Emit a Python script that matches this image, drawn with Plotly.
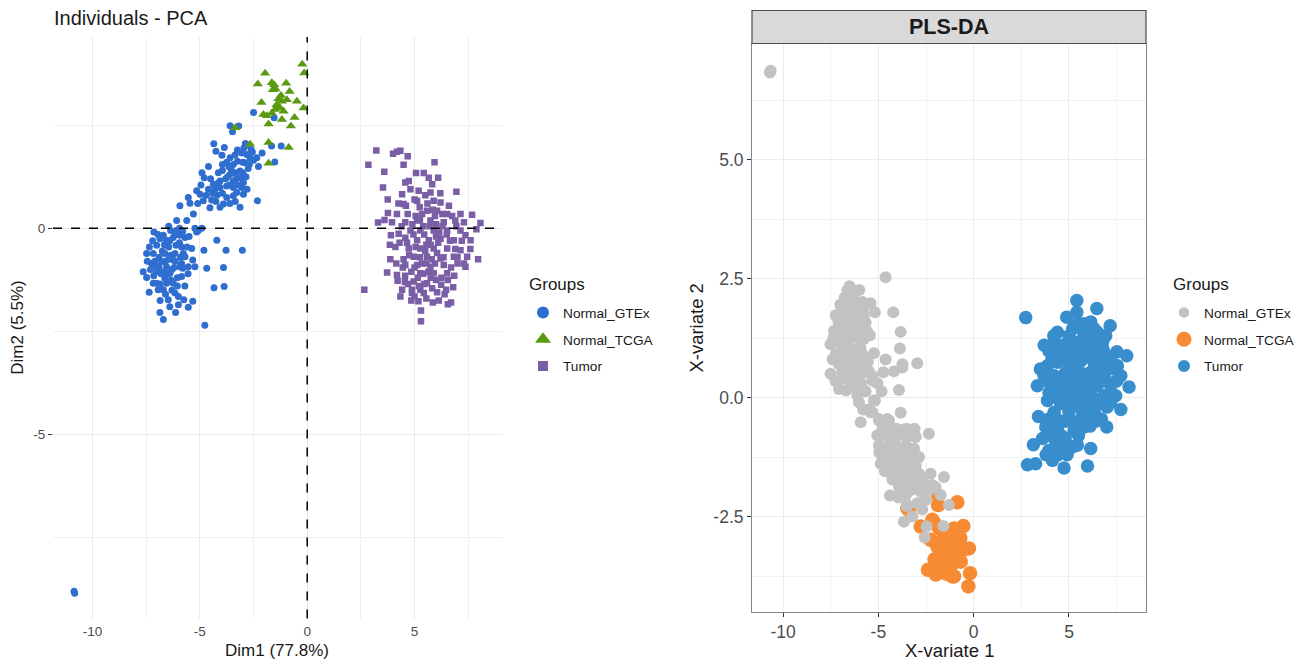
import plotly.graph_objects as go

# ---------------- DATA ----------------
groups = ["Normal_GTEx", "Normal_TCGA", "Tumor"]

# tick labels
pca_x_ticks = [-10, -5, 0, 5]
pca_x_labels = ["-10", "-5", "0", "5"]
pca_y_ticks = [-5, 0]
pca_y_labels = ["-5", "0"]
pls_x_ticks = [-10, -5, 0, 5]
pls_x_labels = ["-10", "-5", "0", "5"]
pls_y_ticks = [-2.5, 0, 2.5, 5]
pls_y_labels = ["-2.5", "0.0", "2.5", "5.0"]

# PCA individuals (Dim1, Dim2)
pca_gtex = [
    (-2.50, 2.81), (-1.54, 2.68), (-3.59, 2.49), (-3.19, 2.48), (-3.48, 2.34), (-2.88, 2.06), (-2.80, 2.02),
    (-2.61, 1.91), (-1.66, 2.00), (-1.21, 2.00), (-2.10, 1.83), (-1.51, 1.61), (-2.27, 1.50), (-2.35, 1.71),
    (-4.35, 2.05), (-4.25, 1.87), (-3.86, 1.96), (-3.97, 1.77), (-3.59, 1.71), (-3.36, 1.78), (-3.05, 1.83),
    (-2.81, 1.79), (-2.66, 1.71), (-2.50, 1.65), (-3.65, 1.50), (-3.44, 1.55), (-3.25, 1.63), (-3.13, 1.39),
    (-2.89, 1.59), (-4.90, 1.35), (-4.80, 1.23), (-4.14, 1.35), (-4.06, 1.15), (-3.59, 1.31), (-3.44, 1.15),
    (-3.13, 1.23), (-2.97, 1.11), (-4.37, 1.07), (-4.29, 0.95), (-4.06, 0.99), (-3.75, 1.03), (-3.44, 0.99),
    (-3.28, 0.87), (-3.05, 0.99), (-5.15, 0.91), (-4.99, 0.83), (-4.60, 0.95), (-4.84, 0.67), (-4.45, 0.69),
    (-4.53, 0.50), (-4.06, 0.51), (-3.90, 0.59), (-3.75, 0.75), (-3.44, 0.79), (-2.97, 0.83), (-3.13, 0.51),
    (-2.32, 0.67), (-5.54, 0.75), (-5.46, 0.61), (-5.93, 0.55), (-5.30, 0.35), (-6.08, 0.19), (-5.61, 0.19),
    (-3.80, 1.20), (-3.60, 1.05), (-3.95, 1.40), (-2.75, 1.45), (-3.30, 1.20), (-4.20, 0.80),
    (-4.50, 1.20), (-4.40, 0.85), (-4.15, 1.10), (-3.95, 0.85), (-3.70, 1.25), (-3.55, 1.45), (-3.35, 1.35),
    (-3.20, 1.05), (-3.00, 1.35), (-2.85, 1.25), (-2.70, 1.55), (-2.55, 1.85), (-3.00, 1.60), (-3.25, 1.90),
    (-2.95, 1.95), (-3.75, 1.60), (-3.95, 1.55), (-4.60, 1.50), (-4.70, 0.80), (-3.60, 0.60), (-3.35, 0.65),
    (-2.80, 0.95), (-4.95, 1.05), (-5.10, 0.60), (-4.25, 0.65),
    (-5.23, 0.00), (-5.07, -0.05), (-4.91, 0.00), (-5.15, -0.09),
    (-7.14, -0.09), (-6.36, -0.05), (-6.70, -0.17), (-6.24, -0.22), (-5.93, -0.17), (-5.80, -0.07),
    (-5.69, -0.22), (-6.55, -0.29), (-7.01, -0.41), (-6.86, -0.25), (-6.11, -0.41), (-5.85, -0.45),
    (-7.17, -0.61), (-7.48, -0.61), (-6.63, -0.61), (-6.16, -0.61), (-5.77, -0.61), (-6.24, -0.77),
    (-6.78, -0.81), (-7.25, -0.85), (-6.55, -0.93), (-5.93, -0.93), (-7.64, -1.05), (-7.01, -1.05),
    (-6.39, -1.09), (-5.85, -1.17), (-7.48, -1.19), (-7.01, -1.33), (-6.63, -1.21), (-6.24, -1.33),
    (-7.36, -1.55), (-6.70, -1.49), (-6.16, -1.57), (-6.00, -1.65), (-6.47, -1.73), (-6.86, -2.04),
    (-6.70, -2.21), (-6.13, -2.04), (-5.54, -1.91), (-5.33, -1.77), (-5.75, -1.73), (-7.17, -1.33),
    (-6.94, -1.49), (-6.55, -1.33), (-5.69, -0.69), (-5.38, -0.49), (-5.33, -0.77), (-5.23, -0.93),
    (-5.85, -0.85), (-5.80, -0.97), (-5.54, -0.93),
    (-6.90, -0.70), (-6.45, -0.45), (-6.30, -1.00), (-6.80, -1.10), (-6.60, -0.80), (-7.05, -0.90),
    (-6.35, -0.65), (-6.05, -1.20), (-6.85, -1.35), (-6.50, -1.10), (-7.30, -1.00), (-6.20, -0.95),
    (-7.20, -0.30), (-6.95, -0.15), (-6.65, -0.40), (-6.40, -0.30), (-6.15, -0.15), (-5.95, -0.35),
    (-7.35, -0.45), (-6.75, -0.55), (-6.45, -0.75), (-6.15, -0.80), (-5.90, -0.70), (-7.10, -0.80),
    (-6.90, -0.95), (-6.65, -1.05), (-6.35, -1.25), (-6.05, -1.40), (-6.60, -1.60), (-6.30, -1.50),
    (-7.15, -1.15), (-5.60, -0.45), (-5.55, -1.10), (-5.70, -1.40), (-6.85, -1.75), (-6.40, -1.90),
    (-5.50, -0.20), (-6.10, -0.05), (-7.45, -0.80), (-6.00, -1.85), (-5.95, 0.00), (-6.45, 0.05),
    (-4.81, -0.53), (-4.21, -0.29), (-3.78, -0.53), (-3.02, -0.53), (-4.68, -0.97), (-3.90, -0.95),
    (-4.34, -1.44), (-3.87, -1.41), (-4.77, -2.35),
    (-10.86, -8.80), (-10.83, -8.85),
]

pca_tcga = [
    (-0.23, 3.98), (-0.14, 3.77), (-1.96, 3.76), (-2.30, 3.50), (-1.65, 3.53), (-1.54, 3.48), (-1.60, 3.36),
    (-1.48, 3.38), (-0.98, 3.52), (-0.82, 3.32), (-2.13, 3.05), (-1.34, 3.14), (-1.18, 3.08), (-1.42, 3.00),
    (-1.26, 2.92), (-1.49, 2.88), (-1.10, 2.84), (-0.95, 3.12), (-0.48, 3.08), (-0.17, 2.92), (-2.04, 2.76),
    (-1.88, 2.73), (-1.65, 2.80), (-1.18, 2.64), (-0.59, 2.69), (-1.80, 2.53), (-0.76, 2.48), (-3.36, 2.44),
    (-2.66, 2.04), (-1.80, 2.08), (-0.86, 1.96), (-1.80, 1.58), (-1.38, 2.98), (-1.22, 3.22),
]

pca_tumor = [
    (3.22, 1.89), (2.85, 1.54), (4.00, 1.81), (4.18, 1.86), (4.34, 1.88), (4.68, 1.75), (4.49, 1.54),
    (3.59, 1.37), (5.93, 1.60), (5.07, 1.34), (5.43, 1.34), (5.66, 1.23), (6.10, 1.23), (4.57, 1.11),
    (4.73, 1.15), (5.82, 1.07), (3.53, 0.99), (4.42, 0.83), (4.81, 0.95), (5.19, 0.91), (5.74, 0.87),
    (6.95, 0.89), (4.49, 0.59), (5.12, 0.67), (5.89, 0.67), (6.21, 0.63), (3.76, 0.37), (4.18, 0.35),
    (4.68, 0.35), (5.24, 0.51), (5.58, 0.43), (6.05, 0.43), (6.52, 0.35), (7.14, 0.35), (7.68, 0.33),
    (3.30, 0.14), (3.95, 0.15), (4.57, 0.15), (5.12, 0.19), (5.74, 0.19), (6.36, 0.15), (6.90, 0.19),
    (8.07, 0.13), (3.90, -0.17), (4.26, -0.13), (4.81, -0.05), (5.27, -0.05), (5.89, -0.05), (6.52, -0.05),
    (7.14, -0.05), (7.88, -0.02), (4.57, -0.23), (5.12, -0.29), (5.66, -0.29), (6.21, -0.25), (6.83, -0.29),
    (7.37, -0.17), (7.61, -0.29), (4.11, -0.45), (4.73, -0.49), (5.27, -0.49), (5.89, -0.49), (6.52, -0.49),
    (7.14, -0.53), (3.87, -0.75), (4.49, -0.75), (4.96, -0.69), (5.58, -0.69), (6.21, -0.73), (6.83, -0.69),
    (7.45, -0.69), (7.96, -0.75), (4.57, -0.89), (5.12, -0.89), (5.74, -0.93), (6.36, -0.89), (7.00, -0.85),
    (7.37, -0.93), (3.72, -1.07), (4.18, -1.13), (4.56, -1.15), (5.27, -1.09), (5.89, -1.09), (6.52, -1.09),
    (2.66, -1.49), (4.21, -1.27), (4.96, -1.29), (5.58, -1.33), (6.24, -1.37), (6.80, -1.43), (4.42, -1.49),
    (4.88, -1.49), (5.27, -1.49), (5.82, -1.45), (6.47, -1.49), (4.34, -1.65), (4.88, -1.57), (5.43, -1.57),
    (4.85, -1.75), (5.18, -1.77), (6.13, -1.75), (6.55, -1.84), (5.30, -1.99), (5.30, -2.25),
    (5.45, -0.15), (5.75, -0.40), (6.05, -0.60), (5.55, -0.85), (6.00, -1.25), (5.40, -1.10), (6.30, 0.05),
    (5.95, 0.30), (5.40, 0.05), (6.70, -0.95), (5.00, -0.95), (6.15, -0.10), (5.60, 0.60), (5.05, 0.30),
    (4.65, -0.35), (4.95, -0.15), (5.25, -0.70), (5.50, -0.55), (5.80, -0.75), (6.10, -0.35), (6.35, -0.70),
    (6.65, -0.30), (6.90, -0.50), (7.20, -0.30), (4.75, -0.65), (5.05, -0.45), (5.35, -0.85), (5.65, -1.05),
    (5.95, -0.85), (6.25, -1.20), (6.55, -1.25), (6.85, -1.15), (5.15, -1.20), (4.85, -1.05), (4.55, -1.30),
    (5.45, -1.35), (5.75, -1.20), (6.05, -1.55), (5.55, -1.70), (5.00, -1.65), (4.70, -1.35), (6.40, -1.60),
    (5.85, -1.80), (5.20, -1.40), (5.35, 0.35), (5.70, 0.05), (6.00, 0.10), (6.30, 0.35), (6.60, 0.55),
    (6.95, 0.05), (7.30, 0.15), (4.90, 0.10), (4.60, 0.55), (5.00, 0.70), (5.50, 0.80), (6.20, 0.85),
    (6.50, -0.15), (7.00, -0.70), (7.30, -0.85), (4.30, -0.35), (4.40, 0.05), (4.15, -0.85), (3.85, -0.40),
    (3.60, 0.20), (7.60, -0.50), (6.75, 0.30), (5.85, 0.45), (5.25, 0.20), (4.45, -0.95), (6.00, -0.20),
    (5.55, -0.40), (6.70, -1.80), (4.25, 0.60), (3.75, 0.70),
]

# PLS-DA individuals (X-variate 1, X-variate 2)
pls_gtex = [
    (-10.69, 6.83), (-10.65, 6.87),
    (-4.62, 2.53), (-6.51, 2.34), (-6.00, 2.26), (-6.63, 2.25), (-6.77, 2.10), (-6.32, 2.10), (-5.84, 2.01),
    (-5.41, 1.98), (-7.24, 1.73), (-6.81, 1.82), (-6.46, 1.86), (-6.11, 1.75), (-5.76, 1.72), (-5.18, 1.79),
    (-4.22, 1.79), (-7.33, 1.40), (-6.89, 1.51), (-6.46, 1.54), (-6.02, 1.51), (-5.67, 1.58), (-3.83, 1.38),
    (-7.51, 1.12), (-7.07, 1.16), (-6.63, 1.23), (-6.19, 1.26), (-5.76, 1.23), (-5.44, 1.31), (-3.87, 1.03),
    (-7.24, 0.91), (-6.81, 0.95), (-6.28, 0.98), (-5.84, 0.91), (-5.23, 0.93), (-4.62, 0.80), (-3.74, 0.70),
    (-2.96, 0.72), (-7.07, 0.70), (-6.63, 0.74), (-6.11, 0.67), (-5.76, 0.70), (-7.51, 0.50), (-6.89, 0.53),
    (-6.37, 0.53), (-5.76, 0.53), (-5.32, 0.46), (-4.74, 0.53), (-4.18, 0.55), (-3.74, 0.63), (-6.54, 0.36),
    (-6.11, 0.36), (-5.32, 0.36), (-7.07, 0.18), (-6.46, 0.29), (-5.67, 0.13), (-4.83, 0.13), (-3.92, 0.16),
    (-6.60, 1.40), (-6.30, 1.70), (-6.90, 1.00), (-6.40, 0.80), (-5.95, 1.05), (-6.70, 0.60), (-6.20, 0.20),
    (-7.00, 1.95), (-6.55, 2.00), (-6.10, 1.95), (-7.10, 1.60), (-6.70, 1.65), (-6.25, 1.60), (-5.80, 1.85),
    (-7.35, 1.25), (-6.95, 1.30), (-6.45, 1.35), (-6.05, 1.35), (-5.60, 1.40), (-7.40, 0.80), (-6.95, 0.85),
    (-6.50, 1.05), (-6.00, 0.85), (-5.55, 0.75), (-7.25, 0.35), (-6.80, 0.40), (-6.30, 0.65), (-5.90, 0.30),
    (-5.50, 0.55), (-6.70, 0.15), (-6.10, 0.05), (-5.80, -0.25), (-5.05, 0.30),
    (-5.18, -0.06), (-6.02, -0.10), (-5.50, -0.25), (-5.32, -0.31), (-5.93, -0.52), (-4.97, -0.45),
    (-4.53, -0.45), (-3.83, -0.32), (-4.79, -0.66), (-4.01, -0.66), (-3.57, -0.66), (-3.13, -0.66),
    (-2.35, -0.76), (-5.41, -0.31), (-5.23, -0.06), (-4.97, -0.48), (-4.71, -0.62), (-4.45, -0.48),
    (-3.48, -0.66), (-3.10, -0.66), (-5.06, -0.79), (-4.71, -0.79), (-4.36, -0.90), (-3.92, -0.79),
    (-3.48, -0.83), (-3.04, -0.83), (-4.97, -1.00), (-4.36, -1.07), (-4.01, -1.04), (-3.57, -1.00),
    (-3.13, -1.07), (-4.79, -1.25), (-4.18, -1.25), (-3.74, -1.21), (-3.31, -1.25), (-2.87, -1.25),
    (-4.88, -1.39), (-4.36, -1.39), (-3.92, -1.42), (-3.48, -1.46), (-3.04, -1.42), (-4.27, -1.72),
    (-3.74, -1.67), (-3.31, -1.63), (-2.87, -1.60), (-2.26, -1.60), (-1.56, -1.67), (-3.92, -1.88),
    (-3.48, -1.84), (-2.96, -1.84), (-2.61, -1.81), (-2.17, -1.84), (-4.39, -2.06), (-3.83, -1.98),
    (-3.31, -1.95), (-2.78, -1.98), (-2.35, -1.95), (-2.00, -1.88), (-3.48, -2.26), (-2.96, -2.22),
    (-1.30, -2.26), (-3.66, -2.61), (-3.22, -2.50), (-2.47, -2.71), (-1.59, -2.70), (-2.57, -2.94),
    (-1.73, -2.05), (-3.52, -2.28), (-3.70, -1.40), (-3.30, -1.45), (-3.60, -1.10), (-3.20, -1.85),
    (-4.55, -0.75), (-4.20, -0.65), (-4.60, -1.05), (-4.20, -0.95), (-3.80, -1.15), (-4.50, -1.30),
    (-4.05, -1.35), (-3.65, -1.35), (-4.10, -1.60), (-3.60, -1.55), (-3.20, -1.40), (-3.95, -2.10),
    (-3.55, -2.05), (-3.10, -1.75), (-2.70, -1.75), (-2.50, -2.15), (-2.70, -2.35), (-4.65, -1.55),
    (-4.95, -1.15), (-3.40, -1.10),
]

pls_tcga = [
    (-3.40, -2.36), (-3.48, -2.33), (-1.87, -2.06), (-1.87, -2.26), (-0.86, -2.20), (-2.78, -2.71),
    (-2.08, -2.63), (-1.82, -2.75), (-1.56, -2.85), (-1.03, -2.75), (-0.54, -2.70), (-2.26, -2.99),
    (-1.82, -3.06), (-1.38, -3.03), (-0.86, -3.10), (-0.25, -3.17), (-0.54, -3.20), (-1.56, -3.27),
    (-1.21, -3.34), (-0.86, -3.27), (-1.77, -3.45), (-1.38, -3.48), (-0.95, -3.45), (-2.40, -3.62),
    (-1.99, -3.72), (-1.56, -3.58), (-1.03, -3.76), (-0.19, -3.69), (-0.28, -3.97), (-1.21, -3.55),
    (-1.38, -3.20), (-1.03, -2.92), (-2.17, -2.57), (-1.91, -3.13), (-1.56, -2.92), (-1.21, -3.13),
    (-0.68, -3.45), (-1.12, -3.76), (-1.82, -3.65), (-1.65, -3.05), (-1.25, -2.85), (-0.95, -3.30),
    (-1.45, -3.70), (-2.05, -3.40), (-0.70, -2.95),
]

pls_tumor = [
    (2.73, 1.68), (5.41, 2.04), (6.46, 1.87), (5.41, 1.79), (4.88, 1.69), (5.44, 1.54), (6.14, 1.59),
    (7.16, 1.51), (4.39, 1.37), (5.00, 1.30), (5.79, 1.33), (6.49, 1.37), (6.93, 1.30), (4.22, 1.16),
    (4.83, 1.12), (5.44, 1.16), (6.14, 1.12), (6.76, 1.16), (3.95, 0.98), (4.57, 0.95), (5.18, 0.98),
    (5.79, 0.95), (6.49, 0.98), (7.51, 0.96), (8.03, 0.88), (3.87, 0.67), (4.39, 0.74), (5.00, 0.74),
    (5.62, 0.77), (6.32, 0.74), (7.02, 0.74), (7.54, 0.67), (3.69, 0.46), (4.22, 0.46), (4.83, 0.53),
    (5.44, 0.49), (6.14, 0.53), (6.84, 0.49), (7.72, 0.46), (3.34, 0.25), (4.48, 0.25), (5.18, 0.25),
    (5.79, 0.29), (6.49, 0.25), (7.19, 0.25), (8.15, 0.22), (4.22, 0.04), (4.83, 0.04), (5.44, 0.04),
    (6.14, 0.08), (6.84, 0.04), (7.45, 0.04), (3.87, -0.06), (4.57, -0.13), (5.27, -0.13), (5.97, -0.10),
    (6.58, -0.13), (7.19, -0.10), (4.22, -0.31), (5.00, -0.31), (5.71, -0.31), (6.32, -0.31), (7.72, -0.25),
    (3.95, -0.45), (4.48, -0.48), (5.18, -0.52), (5.88, -0.48), (6.32, -0.45), (3.78, -0.62), (4.39, -0.66),
    (5.27, -0.69), (5.79, -0.62), (6.98, -0.62), (3.61, -0.86), (4.22, -0.86), (4.57, -0.79), (5.18, -1.04),
    (5.44, -1.00), (3.13, -0.99), (3.95, -1.11), (4.57, -1.00), (6.14, -1.07), (2.82, -1.41), (3.25, -1.39),
    (4.13, -1.32), (4.74, -1.48), (5.97, -1.44), (4.13, -1.14), (4.39, -1.21), (5.09, -1.04),
    (5.70, 0.50), (6.00, 0.10), (5.30, 0.65), (6.60, 0.60), (4.70, 0.30), (5.60, -0.20), (6.40, -0.50),
    (4.50, 1.10), (5.20, 1.45), (5.75, 1.55), (6.30, 1.45), (4.10, 0.80), (4.70, 0.85), (5.30, 0.85),
    (5.95, 0.85), (6.60, 0.85), (7.20, 0.85), (4.00, 0.30), (4.60, 0.40), (5.10, 0.45), (5.50, 0.25),
    (6.30, 0.35), (6.95, 0.35), (7.50, 0.35), (3.95, 0.10), (4.50, -0.05), (5.10, -0.20), (5.85, 0.10),
    (6.55, -0.05), (7.00, -0.20), (4.30, -0.50), (4.80, -0.50), (5.50, -0.50), (6.10, -0.60), (6.70, -0.45),
    (4.00, -0.75), (4.80, -0.85), (5.50, -0.80), (4.40, -0.95), (3.80, -1.20), (4.90, -1.20), (3.40, -0.40),
    (3.50, 0.60), (3.70, 1.10), (6.00, 1.25), (6.80, 1.00), (7.35, 0.60), (5.00, 1.00), (4.20, 1.30),
    (5.60, 1.05), (6.40, 1.10),
]

# ---------------- STYLE ----------------
FONT = "Liberation Sans, Arial, Helvetica, sans-serif"
pca_colors = {"Normal_GTEx": "#2F6ECE", "Normal_TCGA": "#5B9A10", "Tumor": "#7A5EA6"}
pca_symbols = {"Normal_GTEx": "circle", "Normal_TCGA": "triangle-up", "Tumor": "square"}
pca_sizes = {"Normal_GTEx": 7, "Normal_TCGA": 9, "Tumor": 6.5}
pca_leg_sizes = {"Normal_GTEx": 12, "Normal_TCGA": 14, "Tumor": 10}
pls_colors = {"Normal_GTEx": "#C2C2C2", "Normal_TCGA": "#F68B33", "Tumor": "#388ECC"}
pls_sizes = {"Normal_GTEx": 12, "Normal_TCGA": 14.5, "Tumor": 13.5}
pls_leg_sizes = {"Normal_GTEx": 10.5, "Normal_TCGA": 15, "Tumor": 12}

W, H = 1311, 664
fig = go.Figure()

pca_data = {"Normal_GTEx": pca_gtex, "Normal_TCGA": pca_tcga, "Tumor": pca_tumor}
pls_data = {"Normal_GTEx": pls_gtex, "Normal_TCGA": pls_tcga, "Tumor": pls_tumor}

for g in groups:
    xs, ys = zip(*pca_data[g])
    fig.add_trace(go.Scatter(
        x=xs, y=ys, mode="markers", xaxis="x", yaxis="y", showlegend=False,
        marker=dict(color=pca_colors[g], symbol=pca_symbols[g], size=pca_sizes[g], line=dict(width=0)),
        name=g))

for g in ["Tumor", "Normal_TCGA", "Normal_GTEx"]:
    xs, ys = zip(*pls_data[g])
    fig.add_trace(go.Scatter(
        x=xs, y=ys, mode="markers", xaxis="x2", yaxis="y2", showlegend=False,
        marker=dict(color=pls_colors[g], size=pls_sizes[g], line=dict(width=0)), name=g))

# legend-only entries
for i, g in enumerate(groups):
    fig.add_trace(go.Scatter(
        x=[None], y=[None], mode="markers", xaxis="x", yaxis="y", name=g, legend="legend",
        legendgroup="a" + g, legendrank=i,
        marker=dict(color=pca_colors[g], symbol=pca_symbols[g], size=pca_leg_sizes[g], line=dict(width=0))))
for i, g in enumerate(groups):
    fig.add_trace(go.Scatter(
        x=[None], y=[None], mode="markers", xaxis="x2", yaxis="y2", name=g, legend="legend2",
        legendgroup="b" + g, legendrank=i,
        marker=dict(color=pls_colors[g], size=pls_leg_sizes[g], line=dict(width=0))))

# ---- geometry in pixels ----
L1, R1, T1, B1 = 53, 501.5, 37, 618.5
L2, R2, T2, B2 = 752, 1146, 43.5, 611.7
STRIP_T = 10.5

def px(v): return v / W
def py(v): return 1 - v / H

grid = "#EBEBEB"
leg_common = dict(xanchor="left", yanchor="top", font=dict(size=13.7, color="#1A1A1A"),
                  tracegroupgap=6, bgcolor="rgba(0,0,0,0)", itemsizing="trace")
fig.update_layout(
    width=W, height=H, margin=dict(l=0, r=0, t=0, b=0),
    paper_bgcolor="white", plot_bgcolor="white",
    font=dict(family=FONT, color="#1A1A1A"),
    xaxis=dict(domain=[px(L1), px(R1)], range=[-11.84, 9.05],
               tickmode="array", tickvals=pca_x_ticks, ticktext=pca_x_labels,
               showgrid=True, gridcolor=grid, gridwidth=1, zeroline=False, showline=False,
               ticks="", tickfont=dict(size=13.5, color="#4D4D4D"), ticklabelstandoff=3,
               minor=dict(tickmode="linear", dtick=2.5, tick0=0, showgrid=True, gridcolor="#F0F0F0", gridwidth=1),
               anchor="y", fixedrange=True),
    yaxis=dict(domain=[py(B1), py(T1)], range=[-9.46, 4.64],
               tickmode="array", tickvals=pca_y_ticks, ticktext=pca_y_labels,
               showgrid=True, gridcolor=grid, gridwidth=1, zeroline=False, showline=False,
               ticks="outside", ticklen=4, tickcolor="#333333", tickwidth=1,
               tickfont=dict(size=13.5, color="#4D4D4D"),
               minor=dict(tickmode="linear", dtick=2.5, tick0=0, showgrid=True, gridcolor="#F0F0F0", gridwidth=1),
               anchor="x", fixedrange=True),
    xaxis2=dict(domain=[px(L2), px(R2)], range=[-11.63, 9.04],
                tickmode="array", tickvals=pls_x_ticks, ticktext=pls_x_labels,
                showgrid=True, gridcolor=grid, gridwidth=1, zeroline=False,
                showline=True, linecolor="#858585", linewidth=1, mirror=True,
                ticks="outside", ticklen=4, tickcolor="#333333", tickwidth=1,
                tickfont=dict(size=17.5, color="#4D4D4D"),
                minor=dict(tickmode="linear", dtick=2.5, tick0=0, showgrid=True, gridcolor="#F2F2F2", gridwidth=1),
                anchor="y2", fixedrange=True),
    yaxis2=dict(domain=[py(B2), py(T2)], range=[-4.50, 7.44],
                tickmode="array", tickvals=pls_y_ticks, ticktext=pls_y_labels,
                showgrid=True, gridcolor=grid, gridwidth=1, zeroline=False,
                showline=True, linecolor="#858585", linewidth=1, mirror=True,
                ticks="outside", ticklen=4, tickcolor="#333333", tickwidth=1,
                tickfont=dict(size=17.5, color="#4D4D4D"),
                minor=dict(tickmode="linear", dtick=1.25, tick0=0, showgrid=True, gridcolor="#F2F2F2", gridwidth=1),
                anchor="x2", fixedrange=True),
    legend=dict(x=px(523), y=py(297), **leg_common),
    legend2=dict(x=px(1164), y=py(297), **leg_common),
)

# dashed reference lines (PCA)
fig.add_shape(type="line", xref="x", yref="y domain", x0=0, x1=0, y0=0, y1=1,
              line=dict(color="black", width=1.5, dash="dash"), layer="above")
fig.add_shape(type="line", xref="x domain", yref="y", x0=0, x1=1, y0=0, y1=0,
              line=dict(color="black", width=1.5, dash="dash"), layer="above")

# facet strip (PLS-DA)
fig.add_shape(type="rect", xref="paper", yref="paper", x0=px(L2), x1=px(R2), y0=py(T2), y1=py(STRIP_T),
              fillcolor="#D9D9D9", line=dict(color="#4D4D4D", width=1.2), layer="above")

ann = [
    dict(text="Individuals - PCA", x=px(52), y=py(18), xanchor="left", yanchor="middle",
         font=dict(size=20, color="#1A1A1A")),
    dict(text="Dim1 (77.8%)", x=px((L1 + R1) / 2), y=py(650), xanchor="center", yanchor="middle",
         font=dict(size=17, color="#1A1A1A")),
    dict(text="Dim2 (5.5%)", x=px(18), y=py((T1 + B1) / 2), xanchor="center", yanchor="middle",
         textangle=-90, font=dict(size=17, color="#1A1A1A")),
    dict(text="<b>PLS-DA</b>", x=px((L2 + R2) / 2), y=py((STRIP_T + T2) / 2), xanchor="center",
         yanchor="middle", font=dict(size=21.5, color="#1A1A1A")),
    dict(text="X-variate 1", x=px((L2 + R2) / 2), y=py(650), xanchor="center", yanchor="middle",
         font=dict(size=18.5, color="#1A1A1A")),
    dict(text="X-variate 2", x=px(697), y=py((T2 + B2) / 2), xanchor="center", yanchor="middle",
         textangle=-90, font=dict(size=18.5, color="#1A1A1A")),
    dict(text="Groups", x=px(527), y=py(284), xanchor="left", yanchor="middle",
         font=dict(size=17, color="#1A1A1A")),
    dict(text="Groups", x=px(1171), y=py(284), xanchor="left", yanchor="middle",
         font=dict(size=17, color="#1A1A1A")),
]
for a in ann:
    fig.add_annotation(xref="paper", yref="paper", showarrow=False, **a)

fig.write_html("out.html")
